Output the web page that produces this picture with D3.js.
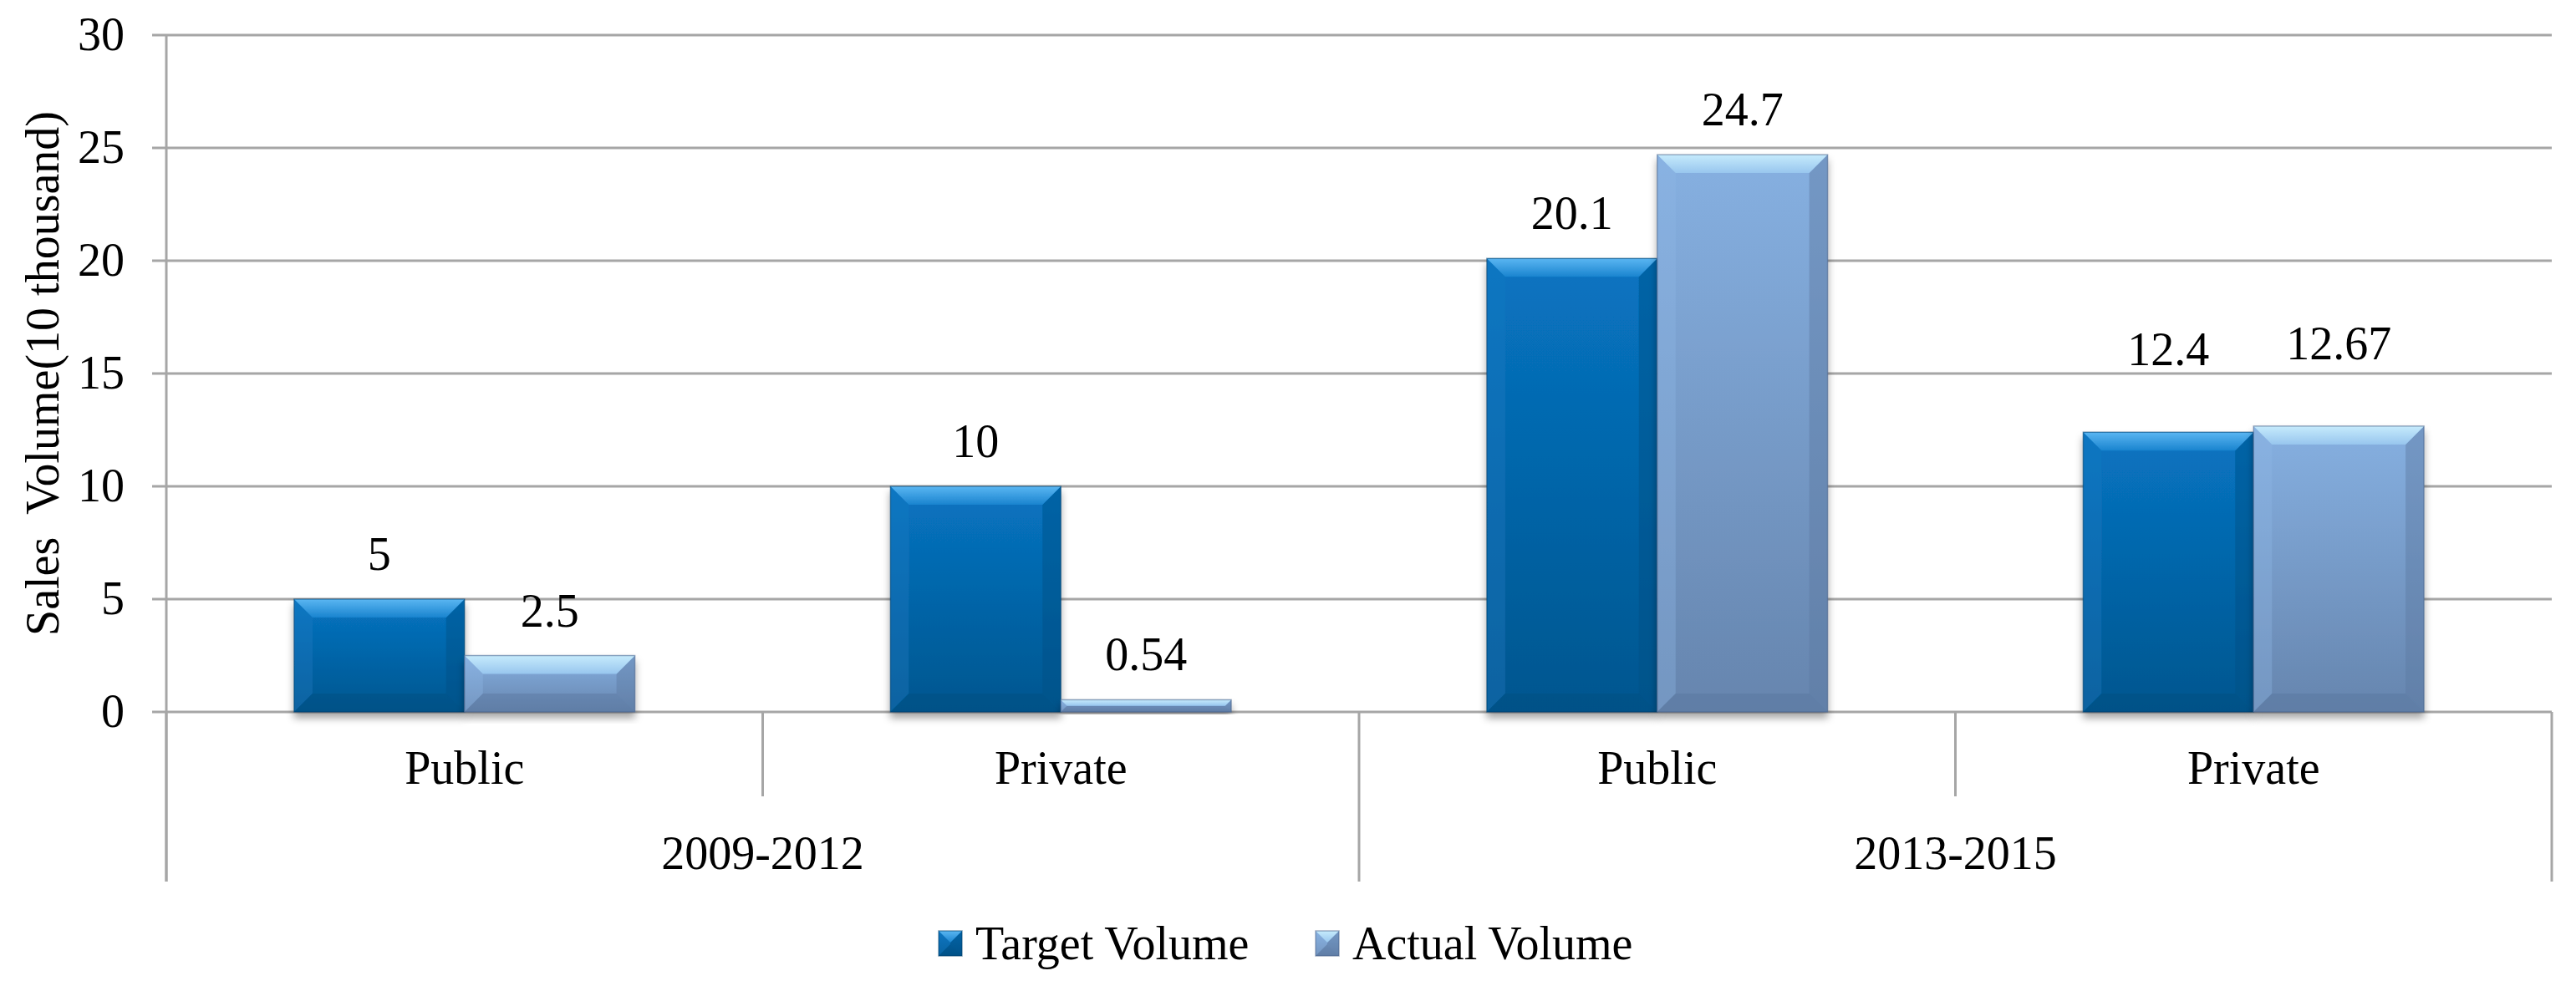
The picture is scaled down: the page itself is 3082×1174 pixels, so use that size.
<!DOCTYPE html>
<html>
<head>
<meta charset="utf-8">
<script src="https://cdn.jsdelivr.net/npm/d3@7"></script>
<style>
  body { margin: 0; background: #fff; }
  text { font-family: "Liberation Serif", "Times New Roman", serif; fill: #000; }
</style>
</head>
<body>
<div id="chart"></div>
<script>
// data
const categories = ["Public", "Private", "Public", "Private"];
const groups = ["2009-2012", "2013-2015"];
const groupOf = [0, 0, 1, 1];
const series = ["Target Volume", "Actual Volume"];
const targetVolume = [5, 10, 20.1, 12.4];
const actualVolume = [2.5, 0.54, 24.7, 12.67];
const yTicks = [0, 5, 10, 15, 20, 25, 30];
const yTitle = "Sales  Volume(10 thousand)";

// layout
const svgWidth = 3082, svgHeight = 1174;
const plotLeft = 199, plotRight = 3053, plotTop = 42, plotBottom = 852;
const axisBottom = 1055, innerDivBottom = 953;
const fontSize = 56;
const labelLift = [[35, 35], [35, 35], [35, 35], [80, 80]];
const gridColor = "#a6a6a6";

const palette = {
    "Target Volume": { top: "#0874c2", bottom: "#00568f", bevelHi: "#5ab6f2", bevelLo: "#1a84cf",
                       left: "#1a7cc4", right: "#004f86", base: "#004a7c", edge: "#003d6a" },
    "Actual Volume": { top: "#86b0e1", bottom: "#6685ae", bevelHi: "#c6ebfc", bevelLo: "#98c6ee",
                       left: "#8fb8e6", right: "#5d7aa2", base: "#58739a", edge: "#4a6288" }
};

let svg = d3.select("#chart")
    .append("svg")
    .attr("width", svgWidth)
    .attr("height", svgHeight);

let defs = svg.append("defs");
series.forEach((s, i) => {
    let c = palette[s];
    let face = defs.append("linearGradient").attr("id", "face" + i)
        .attr("x1", 0).attr("y1", 0).attr("x2", 0).attr("y2", 1);
    face.append("stop").attr("offset", "0%").attr("stop-color", c.top);
    face.append("stop").attr("offset", "100%").attr("stop-color", c.bottom);
    let bev = defs.append("linearGradient").attr("id", "bevel" + i)
        .attr("x1", 0).attr("y1", 0).attr("x2", 0).attr("y2", 1);
    bev.append("stop").attr("offset", "0%").attr("stop-color", c.bevelHi);
    bev.append("stop").attr("offset", "100%").attr("stop-color", c.bevelLo);
});
let shadow = defs.append("filter").attr("id", "shadow")
    .attr("x", "-10%").attr("y", "-10%").attr("width", "120%").attr("height", "130%");
shadow.append("feDropShadow")
    .attr("dx", 0).attr("dy", 7).attr("stdDeviation", 5)
    .attr("flood-color", "#000").attr("flood-opacity", 0.35);

// scales
let x0 = d3.scaleBand()
    .domain(d3.range(categories.length))
    .range([plotLeft, plotRight])
    .paddingInner(0).paddingOuter(0);
let x1 = d3.scaleBand()
    .domain(series)
    .range([0, x0.bandwidth()])
    .paddingInner(0).paddingOuter(0.75);
let y = d3.scaleLinear()
    .domain([0, 30])
    .range([plotBottom, plotTop]);

// gridlines
svg.append("g")
    .selectAll("line")
    .data(yTicks)
    .enter()
    .append("line")
    .attr("x1", plotLeft - 17)
    .attr("x2", plotRight)
    .attr("y1", d => y(d))
    .attr("y2", d => y(d))
    .attr("stroke", gridColor)
    .attr("stroke-width", 3);

// y axis labels
let yAxis = d3.axisLeft(y).tickValues(yTicks).tickSize(0).tickPadding(50);
let yg = svg.append("g")
    .attr("transform", `translate(${plotLeft}, 0)`)
    .call(yAxis);
yg.select(".domain").remove();
yg.attr("font-family", null);
yg.selectAll("text")
    .style("font-size", fontSize + "px")
    .attr("fill", "#000");

// y axis line
svg.append("line")
    .attr("x1", plotLeft).attr("x2", plotLeft)
    .attr("y1", y(30)).attr("y2", axisBottom)
    .attr("stroke", gridColor).attr("stroke-width", 3);

// category dividers
let dividers = d3.range(categories.length + 1).map(i => {
    let xpos = i < categories.length ? x0(i) : plotRight;
    let full = i === 0 || i === categories.length || groupOf[i] !== groupOf[i - 1];
    return { x: xpos, bottom: full ? axisBottom : innerDivBottom };
});
svg.append("g")
    .selectAll("line")
    .data(dividers)
    .enter()
    .append("line")
    .attr("x1", d => d.x).attr("x2", d => d.x)
    .attr("y1", plotBottom).attr("y2", d => d.bottom)
    .attr("stroke", gridColor).attr("stroke-width", 3);

// y title
svg.append("text")
    .attr("transform", `translate(70, ${(plotTop + plotBottom) / 2}) rotate(-90)`)
    .attr("text-anchor", "middle")
    .style("font-size", fontSize + "px")
    .style("white-space", "pre")
    .attr("xml:space", "preserve")
    .text(yTitle);

// beveled bar shape
function draw_bar(g, xl, yt, w, h, i) {
    let c = palette[series[i]];
    let b = Math.min(22, h / 2, w / 2);
    let xr = xl + w, yb = yt + h;
    g.append("rect")
        .attr("x", xl).attr("y", yt).attr("width", w).attr("height", h)
        .attr("fill", `url(#face${i})`);
    g.append("polygon")
        .attr("points", [[xl, yt], [xl + b, yt + b], [xl + b, yb - b], [xl, yb]].join(" "))
        .attr("fill", c.left).attr("opacity", 0.35);
    g.append("polygon")
        .attr("points", [[xr, yt], [xr - b, yt + b], [xr - b, yb - b], [xr, yb]].join(" "))
        .attr("fill", c.right).attr("opacity", 0.45);
    g.append("polygon")
        .attr("points", [[xl, yb], [xl + b, yb - b], [xr - b, yb - b], [xr, yb]].join(" "))
        .attr("fill", c.base).attr("opacity", 0.4);
    g.append("polygon")
        .attr("points", [[xl, yt], [xr, yt], [xr - b, yt + b], [xl + b, yt + b]].join(" "))
        .attr("fill", `url(#bevel${i})`);
    g.append("rect")
        .attr("x", xl).attr("y", yt).attr("width", w).attr("height", h)
        .attr("fill", "none").attr("stroke", c.edge).attr("stroke-width", 1.5)
        .attr("stroke-opacity", 0.5);
}

let values = [targetVolume, actualVolume];
let barData = [];
categories.forEach((cat, ci) => {
    series.forEach((s, si) => {
        barData.push({ ci: ci, si: si, v: values[si][ci] });
    });
});

let bars = svg.append("g")
    .selectAll("g")
    .data(barData)
    .enter()
    .append("g")
    .attr("class", "bar")
    .attr("filter", "url(#shadow)");
bars.each(function (d) {
    let xl = x0(d.ci) + x1(series[d.si]);
    draw_bar(d3.select(this), xl, y(d.v), x1.bandwidth(), y(0) - y(d.v), d.si);
});

// value labels
svg.append("g")
    .selectAll("text")
    .data(barData)
    .enter()
    .append("text")
    .attr("x", d => x0(d.ci) + x1(series[d.si]) + x1.bandwidth() / 2)
    .attr("y", d => y(d.v) - labelLift[d.ci][d.si])
    .attr("text-anchor", "middle")
    .style("font-size", fontSize + "px")
    .text(d => String(d.v));

// category labels
svg.append("g")
    .selectAll("text")
    .data(categories)
    .enter()
    .append("text")
    .attr("x", (d, i) => x0(i) + x0.bandwidth() / 2)
    .attr("y", 938)
    .attr("text-anchor", "middle")
    .style("font-size", fontSize + "px")
    .text(d => d);

// group labels
svg.append("g")
    .selectAll("text")
    .data(groups)
    .enter()
    .append("text")
    .attr("x", (d, gi) => {
        let idx = groupOf.map((g, i) => g === gi ? i : -1).filter(i => i >= 0);
        return (x0(idx[0]) + x0(idx[idx.length - 1]) + x0.bandwidth()) / 2;
    })
    .attr("y", 1040)
    .attr("text-anchor", "middle")
    .style("font-size", fontSize + "px")
    .text(d => d);

// legend
let legendX = [1123, 1574];
let legend = svg.append("g")
    .selectAll("g")
    .data(series)
    .enter()
    .append("g")
    .attr("transform", (d, i) => `translate(${legendX[i]}, 1114)`);
legend.each(function (d, i) {
    draw_bar(d3.select(this), 0, 0, 28, 30, i);
});
legend.append("text")
    .attr("x", 44)
    .attr("y", 34)
    .style("font-size", fontSize + "px")
    .text(d => d);
</script>
</body>
</html>
